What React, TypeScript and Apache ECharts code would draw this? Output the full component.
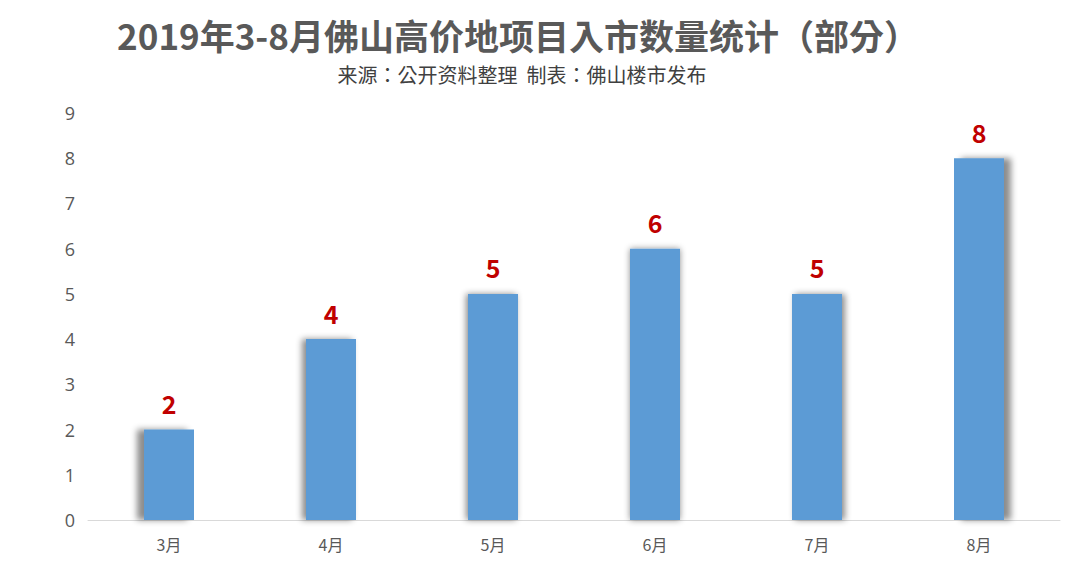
import React, { useEffect, useRef } from "react";
import * as echarts from "echarts";

const titleText = "2019年3-8月佛山高价地项目入市数量统计（部分）";
const subtitleText = "来源：公开资料整理  制表：佛山楼市发布";
const months = ["3月", "4月", "5月", "6月", "7月", "8月"];
const counts = [2, 4, 5, 6, 5, 8];

const shadowShift = [-7, -4, -2, 0, 3, 7];

export default function App() {
  const ref = useRef<HTMLDivElement>(null);
  useEffect(() => {
    if (!ref.current) return;
    const chart = echarts.init(ref.current, null, { renderer: "svg" });
    chart.setOption({
      animation: false,
      backgroundColor: "#ffffff",
      title: [
        {
          text: titleText,
          left: 518,
          textAlign: "center",
          top: 15,
          padding: 0,
          textStyle: {
            fontFamily: "Noto Sans CJK TC",
            fontSize: 35,
            lineHeight: 38,
            fontWeight: "bold",
            color: "#595959",
          },
        },
        {
          text: subtitleText,
          left: 522,
          textAlign: "center",
          top: 63,
          padding: 0,
          textStyle: {
            fontFamily: "Noto Sans CJK TC",
            fontSize: 20,
            lineHeight: 22,
            fontWeight: "normal",
            color: "#404040",
          },
        },
      ],
      grid: { left: 88, right: 20, top: 113, bottom: 47 },
      xAxis: {
        type: "category",
        data: months,
        axisLine: { lineStyle: { color: "#D9D9D9", width: 1 } },
        axisTick: { show: false },
        axisLabel: {
          color: "#595959",
          fontSize: 16,
          margin: 16,
          fontFamily: "Noto Sans CJK SC",
        },
      },
      yAxis: {
        type: "value",
        min: 0,
        max: 9,
        interval: 1,
        splitLine: { show: false },
        axisLine: { show: false },
        axisTick: { show: false },
        axisLabel: {
          color: "#595959",
          fontSize: 18,
          margin: 13,
          fontFamily: "Open Sans",
        },
      },
      series: [
        {
          type: "bar",
          barWidth: 50,
          data: counts.map((v, i) => ({
            value: v,
            itemStyle: {
              color: "#5B9BD5",
              shadowColor: "rgba(0,0,0,0.45)",
              shadowBlur: 6,
              shadowOffsetX: shadowShift[i],
              shadowOffsetY: 0,
            },
          })),
          label: {
            show: true,
            position: "top",
            distance: 14,
            color: "#C00000",
            fontSize: 25,
            fontWeight: "bold",
            fontFamily: "Noto Sans CJK SC",
          },
        },
      ],
    });
    return () => chart.dispose();
  }, []);
  return (
    <div
      ref={ref}
      style={{ position: "fixed", left: 0, top: 0, width: 1080, height: 567 }}
    />
  );
}
